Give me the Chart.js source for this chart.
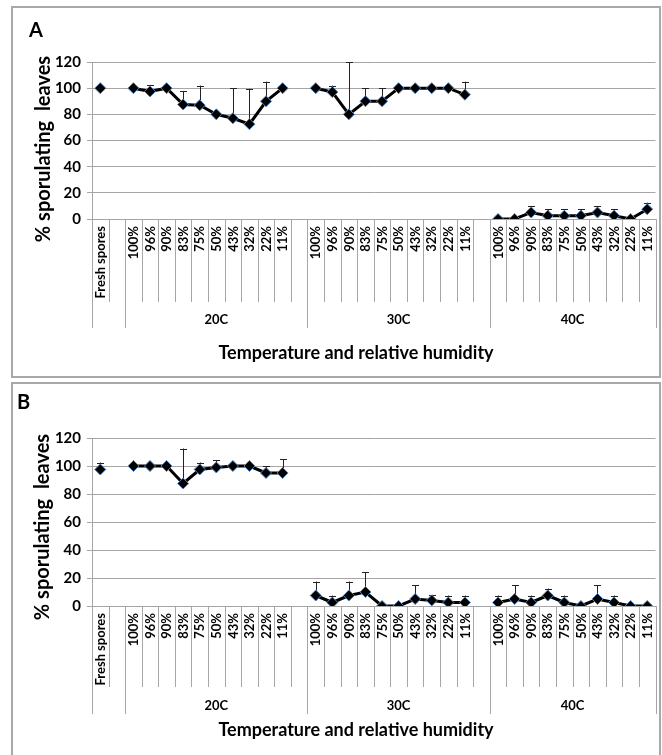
<!DOCTYPE html>
<html><head><meta charset="utf-8">
<script src="https://cdn.jsdelivr.net/npm/chart.js@4"></script>
<style>
html,body{margin:0;padding:0;background:#fff;overflow:hidden;width:662px;height:755px;}
.panel{position:absolute;box-sizing:border-box;border:2px solid #a8a8a8;}
canvas{position:absolute;left:0;}
</style></head><body>
<div class="panel" style="left:11px;top:6px;width:650px;height:372px"></div>
<div class="panel" style="left:11px;top:382px;width:650px;height:400px"></div>
<canvas id="cA" width="662" height="380" style="top:0"></canvas>
<canvas id="cB" width="662" height="375" style="top:380px"></canvas>
<script>
// ---- data ----
const freshLabel = 'Fresh spores';
const rhLevels = ['100%','96%','90%','83%','75%','50%','43%','32%','22%','11%'];
const temperatures = ['20C','30C','40C'];
const yTicks = [0,20,40,60,80,100,120];
const yAxisTitle = '% sporulating  leaves';
const xAxisTitle = 'Temperature and relative humidity';

// Panel A
const freshA = 100;
const freshAErr = 0;
const a20C = [100,97.5,100,87.5,87,80,77,72.5,90,100];
const a20CErr = [0,5,0,10,15,0,23,27,15,0];
const a30C = [100,97,80,90,90,100,100,100,100,95];
const a30CErr = [0,5,40,10,10,0,0,0,0,10];
const a40C = [0,0,5,2.5,2.5,2.5,5,2.5,0,7.5];
const a40CErr = [0,0,5,5,5,5,5,5,0,5];

// Panel B
const freshB = 97.5;
const freshBErr = 5;
const b20C = [100,100,100,87.5,97.5,99,100,100,95,95];
const b20CErr = [0,0,0,25,5,5,0,0,5,10];
const b30C = [7.5,2.5,7.5,10,0,0,5,4,2.5,2.5];
const b30CErr = [10,5,10,14,0,0,10,4,5,5];
const b40C = [2.5,5,2.5,7.5,2.5,0,5,2.5,0,0];
const b40CErr = [5,10,5,5,5,0,10,5,0,0];

// ---- build category table: fresh, gap, 20C x10, gap, 30C x10, gap, 40C x10 ----
const categories = [freshLabel, ''];
temperatures.forEach((t, k) => {
  rhLevels.forEach(r => categories.push(r));
  if (k < temperatures.length - 1) categories.push('');
});
function buildSeries(fresh, groups) {
  const out = [fresh, null];
  groups.forEach((g, k) => { g.forEach(v => out.push(v)); if (k < groups.length - 1) out.push(null); });
  return out;
}
// group spans (category indices, inclusive)
const groupSpans = [
  {label: temperatures[0], from: 2, to: 12},
  {label: temperatures[1], from: 13, to: 23},
  {label: temperatures[2], from: 24, to: 33}
];
const fullBoundaries = [0, 2, 13, 24, 34];

const FONT = 'Lato, "Open Sans", sans-serif';
const GRID = '#a6a6a6';

function makeChart(id, letter, values, errors, geo) {
  const catPlugin = {
    id: 'cats' + id,
    beforeDatasetsDraw(chart) {
      const ctx = chart.ctx, xs = chart.scales.x, ys = chart.scales.y;
      ctx.save();
      ctx.strokeStyle = '#222';
      ctx.lineWidth = 1;
      values.forEach((v, i) => {
        const e = errors[i];
        if (v == null || !e) return;
        const x = Math.round(xs.getPixelForValue(i)) + 0.5;
        const y1 = ys.getPixelForValue(v), y2 = ys.getPixelForValue(v + e);
        ctx.beginPath();
        ctx.moveTo(x, y1); ctx.lineTo(x, y2);
        ctx.moveTo(x - 3.5, Math.round(y2) + 0.5); ctx.lineTo(x + 3.5, Math.round(y2) + 0.5);
        ctx.stroke();
      });
      ctx.restore();
    },
    afterDraw(chart) {
      const ctx = chart.ctx, xs = chart.scales.x, ca = chart.chartArea;
      const w = xs.getPixelForValue(1) - xs.getPixelForValue(0);
      const x0 = xs.getPixelForValue(0) - w / 2;
      const base = ca.bottom;
      ctx.save();
      ctx.strokeStyle = GRID;
      ctx.lineWidth = 1;
      for (let b = 0; b <= categories.length; b++) {
        const x = Math.round(x0 + b * w) + 0.5;
        const full = fullBoundaries.includes(b);
        ctx.beginPath();
        ctx.moveTo(x, base);
        ctx.lineTo(x, base + (full ? geo.lvl2 : geo.lvl1));
        ctx.stroke();
      }
      ctx.fillStyle = '#000';
      ctx.font = 'bold ' + geo.catFont + 'px ' + FONT;
      ctx.textAlign = 'right';
      ctx.textBaseline = 'middle';
      categories.forEach((c, i) => {
        if (!c) return;
        ctx.save();
        ctx.translate(xs.getPixelForValue(i) + 0.5, base + geo.labOff);
        ctx.rotate(-Math.PI / 2);
        ctx.fillText(c, 0, 0);
        ctx.restore();
      });
      ctx.textAlign = 'center';
      groupSpans.forEach(g => {
        const cx = x0 + ((g.from + g.to + 1) / 2) * w;
        ctx.fillText(g.label, cx, base + geo.grpOff);
      });
      ctx.font = 'bold ' + geo.titleFont + 'px ' + FONT;
      ctx.fillText(xAxisTitle, geo.titleX, base + geo.titleOff);
      ctx.font = 'bold ' + geo.yTitleFont + 'px ' + FONT;
      ctx.save();
      ctx.translate(geo.yTitleX, geo.yTitleY);
      ctx.rotate(-Math.PI / 2);
      ctx.fillText(yAxisTitle, 0, 0);
      ctx.restore();
      ctx.font = 'bold ' + geo.letterFont + 'px ' + FONT;
      ctx.textAlign = 'left';
      ctx.fillText(letter, geo.letterX, geo.letterY);
      ctx.restore();
    }
  };
  return new Chart(document.getElementById(id), {
    type: 'line',
    data: {
      labels: categories,
      datasets: [{
        data: values,
        borderColor: '#000',
        borderWidth: 3,
        tension: 0,
        spanGaps: false,
        pointStyle: 'rectRot',
        pointRadius: 5.5,
        pointBackgroundColor: '#000',
        pointBorderColor: '#4f81bd',
        pointBorderWidth: 1
      }]
    },
    options: {
      responsive: false,
      animation: false,
      events: [],
      layout: {padding: {left: 4, right: 4, top: geo.top, bottom: 0}},
      plugins: {legend: {display: false}, tooltip: {enabled: false}},
      scales: {
        x: {
          offset: true,
          grid: {display: false},
          ticks: {display: false},
          border: {display: true, color: GRID, width: 1},
          afterFit: s => { s.height = geo.xHeight; }
        },
        y: {
          min: 0, max: 120,
          afterBuildTicks: s => { s.ticks = yTicks.map(v => ({value: v})); },
          grid: {color: GRID, lineWidth: 1, tickLength: 5},
          border: {display: true, color: GRID, width: 1},
          ticks: {color: '#000', font: {family: FONT, size: 15, weight: 'bold'}, padding: 6},
          afterFit: s => { s.width = 88; }
        }
      }
    },
    plugins: [catPlugin]
  });
}

makeChart('cA', 'A',
  buildSeries(freshA, [a20C, a30C, a40C]),
  buildSeries(freshAErr, [a20CErr, a30CErr, a40CErr]),
  {top: 62, xHeight: 161, lvl1: 83, lvl2: 109, labOff: 7, grpOff: 101, titleOff: 134, titleX: 356,
   catFont: 13, titleFont: 18, yTitleFont: 20, letterFont: 20, letterX: 29, letterY: 31, yTitleX: 44, yTitleY: 149});
makeChart('cB', 'B',
  buildSeries(freshB, [b20C, b30C, b40C]),
  buildSeries(freshBErr, [b20CErr, b30CErr, b40CErr]),
  {top: 58, xHeight: 149, lvl1: 81, lvl2: 108, labOff: 7, grpOff: 100, titleOff: 124, titleX: 356,
   catFont: 13, titleFont: 18, yTitleFont: 20, letterFont: 20, letterX: 17, letterY: 23, yTitleX: 43, yTitleY: 147});
</script>
</body></html>
